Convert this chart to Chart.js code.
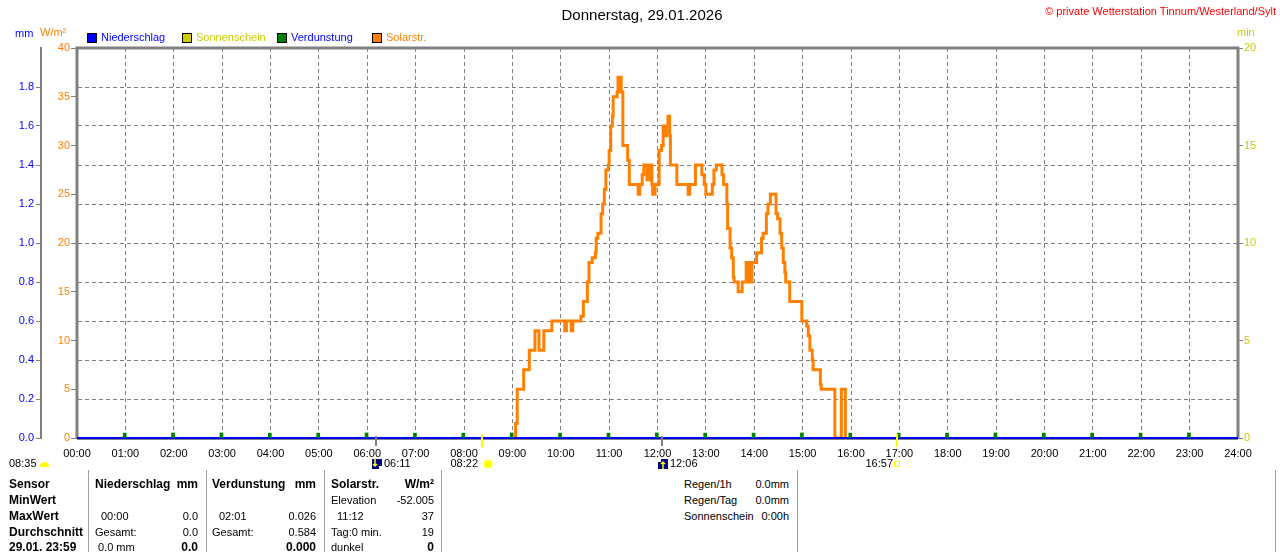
<!DOCTYPE html>
<html>
<head>
<meta charset="utf-8">
<script src="https://cdn.jsdelivr.net/npm/chart.js@4.4.1/dist/chart.umd.min.js"></script>
<style>
body { margin: 0; background: #fff; font-family: "Liberation Sans", Arial, sans-serif; font-size: 11px; color: #000; }
#wrap { position: relative; width: 1280px; height: 552px; overflow: hidden; background: #fff; }
#chart { position: absolute; left: 0; top: 0; }
.t { position: absolute; white-space: nowrap; line-height: 13px; }
.b { font-weight: bold; font-size: 12px; }
.sep { position: absolute; top: 470px; height: 82px; width: 1px; background: #a0a0a0; }
.box { position: absolute; top: 33px; width: 8px; height: 8px; border: 1px solid #000; }
</style>
</head>
<body>
<div id="wrap">
  <canvas id="chart" width="1280" height="470"></canvas>

  <div class="t" style="left:0;width:1284px;top:6px;text-align:center;font-size:15px;line-height:17px;">Donnerstag, 29.01.2026</div>
  <div class="t" style="right:4px;top:5px;color:#ff0000;">© private Wetterstation Tinnum/Westerland/Sylt</div>

  <div class="t" style="left:15px;top:27px;color:#0000ff;">mm</div>
  <div class="t" style="left:40px;top:26px;color:#ff8000;">W/m²</div>
  <div class="t" style="left:1237px;top:26px;color:#cccc00;">min</div>

  <div class="box" style="left:87px;background:#0000ff;"></div>
  <div class="t" style="left:101px;top:31px;color:#0000ff;">Niederschlag</div>
  <div class="box" style="left:182px;background:#cccc00;"></div>
  <div class="t" style="left:196px;top:31px;color:#cccc00;">Sonnenschein</div>
  <div class="box" style="left:277px;background:#008000;"></div>
  <div class="t" style="left:291px;top:31px;color:#0000ff;">Verdunstung</div>
  <div class="box" style="left:372px;background:#ff8000;"></div>
  <div class="t" style="left:386px;top:31px;color:#ff8000;">Solarstr.</div>

  <div class="t" style="left:9px;top:457px;">08:35</div>
  <div style="position:absolute;left:40px;top:462px;width:9px;height:5px;background:#ffff00;border-radius:5px 5px 0 0;"></div>

  <div class="sep" style="left:88px;"></div>
  <div class="sep" style="left:206px;"></div>
  <div class="sep" style="left:324px;"></div>
  <div class="sep" style="left:441px;"></div>
  <div class="sep" style="left:797px;"></div>
  <div class="sep" style="left:1275px;"></div>
  <div id="table"></div>
</div>

<script>
// solar radiation W/m² (value holds until the next time)
const solarTimes = [
  "09:03", "09:04", "09:06", "09:14", "09:21", "09:28", "09:33", "09:39", "09:49",
  "10:05", "10:07", "10:13", "10:15", "10:25", "10:28", "10:33", "10:35", "10:39",
  "10:43", "10:44", "10:46", "10:50", "10:52", "10:54", "10:56", "10:59",
  "11:00", "11:02", "11:04", "11:05", "11:10", "11:11", "11:13", "11:14", "11:15",
  "11:17", "11:23", "11:25", "11:36", "11:38", "11:41", "11:43", "11:47", "11:50",
  "11:53", "11:54", "11:57",
  "12:02", "12:05", "12:07", "12:09", "12:11", "12:13", "12:15", "12:16", "12:24",
  "12:38", "12:40", "12:47", "12:55", "12:58",
  "13:00", "13:08", "13:10", "13:13", "13:20", "13:22", "13:26", "13:27", "13:30",
  "13:32", "13:34", "13:35", "13:40", "13:45", "13:50", "13:52", "13:53", "13:55", "13:57",
  "14:03", "14:09", "14:11", "14:15", "14:17", "14:20", "14:27", "14:29", "14:32",
  "14:34", "14:36", "14:38", "14:39", "14:44", "14:59",
  "15:05", "15:07", "15:09", "15:12", "15:13", "15:22", "15:23", "15:40", "15:48", "15:53"
];
const solarValues = [
  0, 1.5, 5, 7, 9, 11, 9, 11, 12,
  11, 12, 11, 12, 12.5, 14, 16, 18, 18.5,
  19, 20.5, 21, 23, 24, 25.5, 27.5, 28,
  29.5, 32, 33, 35, 35.5, 37, 35.5, 37, 35.5,
  30, 28.5, 26, 25, 26, 27, 28, 26.5, 28,
  26, 25, 26,
  29.5, 30, 32, 31, 32, 33, 31, 28, 26,
  25, 26, 28, 27, 26,
  25, 26, 27.5, 28, 27, 26, 24, 21.5, 19.5,
  18.5, 16.5, 16, 15, 16, 18, 16, 18, 16, 18,
  19, 20.5, 21, 23, 24, 25, 23, 22.5, 21,
  19.5, 18, 17, 16, 14, 12,
  11.5, 10.5, 9, 8, 7, 5.5, 5, 0, 5, 0
];

// precipitation mm (hourly)
const rainTimes = ["00:00", "01:00", "02:00", "03:00", "04:00", "05:00", "06:00", "07:00", "08:00",
  "09:00", "10:00", "11:00", "12:00", "13:00", "14:00", "15:00", "16:00", "17:00", "18:00",
  "19:00", "20:00", "21:00", "22:00", "23:00", "24:00"];
const rainValues = [0, 0, 0, 0, 0, 0, 0, 0, 0, 0, 0, 0, 0, 0, 0, 0, 0, 0, 0, 0, 0, 0, 0, 0, 0];

// sunshine minutes (hourly)
const sunValues = [0, 0, 0, 0, 0, 0, 0, 0, 0, 0, 0, 0, 0, 0, 0, 0, 0, 0, 0, 0, 0, 0, 0, 0, 0];

// evaporation mm (hourly)
const evapTimes = ["01:01", "02:01", "03:01", "04:01", "05:01", "06:01", "07:01", "08:01",
  "09:01", "10:01", "11:01", "12:01", "13:01", "14:01", "15:01", "16:01", "17:01", "18:01",
  "19:01", "20:01", "21:01", "22:01", "23:01"];
const evapValues = [0.025, 0.026, 0.026, 0.025, 0.025, 0.026, 0.025, 0.025, 0.026, 0.025, 0.025,
  0.026, 0.025, 0.025, 0.026, 0.025, 0.025, 0.025, 0.026, 0.025, 0.025, 0.025, 0.026];

// moon / sun events under the time axis
const eventTimes = ["06:11", "08:22", "12:06", "16:57"];
const eventKinds = ["moonrise", "sunrise", "moonset", "sunset"];

const mmTicks = [0, 0.2, 0.4, 0.6, 0.8, 1.0, 1.2, 1.4, 1.6, 1.8, 2.0];

function toMin(t) {
  const p = t.split(":");
  return parseInt(p[0], 10) * 60 + parseInt(p[1], 10);
}

function pad(n) {
  return (n < 10 ? "0" : "") + n;
}

const GREY = "#808080";

// grey frame round the plot area, bottom edge sits just under the zero line
const framePlugin = {
  id: "frame",
  beforeDatasetsDraw(chart) {
    const a = chart.chartArea, ctx = chart.ctx;
    ctx.save();
    ctx.strokeStyle = GREY;
    ctx.lineWidth = 3;
    ctx.beginPath();
    ctx.moveTo(a.left, a.bottom + 1);
    ctx.lineTo(a.left, a.top);
    ctx.lineTo(a.right, a.top);
    ctx.lineTo(a.right, a.bottom + 1);
    ctx.stroke();
    ctx.lineWidth = 2;
    ctx.beginPath();
    ctx.moveTo(a.left, a.bottom + 1);
    ctx.lineTo(a.right, a.bottom + 1);
    ctx.stroke();
    ctx.restore();
  }
};

// sunrise/sunset and moon marks below the axis
const eventPlugin = {
  id: "events",
  afterDraw(chart) {
    const ctx = chart.ctx, xs = chart.scales.x, bottom = chart.chartArea.bottom;
    ctx.save();
    ctx.font = '11px "Liberation Sans", Arial, sans-serif';
    ctx.textBaseline = "middle";
    eventTimes.forEach(function (t, i) {
      const x = Math.round(xs.getPixelForValue(toMin(t)));
      const kind = eventKinds[i];
      const y = bottom + 26;
      if (kind === "sunrise" || kind === "sunset") {
        ctx.fillStyle = "#ffff00";
        ctx.fillRect(x - 1, bottom - 4, 2, 13);
        ctx.fillStyle = "#000";
        ctx.textAlign = "right";
        ctx.fillText(t, x - 4, y);
        if (kind === "sunrise") {
          ctx.strokeStyle = "#ffff99";
          ctx.lineWidth = 1;
          for (let k = 0; k < 8; k++) {
            const ang = k * Math.PI / 4;
            ctx.beginPath();
            ctx.moveTo(x + 6 + Math.cos(ang) * 4, y + Math.sin(ang) * 4);
            ctx.lineTo(x + 6 + Math.cos(ang) * 7, y + Math.sin(ang) * 7);
            ctx.stroke();
          }
          ctx.fillStyle = "#ffff00";
          ctx.beginPath();
          ctx.arc(x + 6, y, 4, 0, Math.PI * 2);
          ctx.fill();
        } else {
          ctx.strokeStyle = "#ffff00";
          ctx.lineWidth = 1;
          ctx.strokeRect(x - 2.5, y - 2.5, 5, 5);
        }
      } else {
        ctx.fillStyle = GREY;
        ctx.fillRect(x - 1, bottom - 2, 2, 10);
        ctx.fillStyle = "#000080";
        ctx.fillRect(x - 4, y - 5, 10, 10);
        ctx.strokeStyle = "#ffff00";
        ctx.lineWidth = 1.5;
        ctx.beginPath();
        if (kind === "moonrise") {
          ctx.moveTo(x - 1, y - 5); ctx.lineTo(x - 1, y + 2);
          ctx.moveTo(x - 3, y); ctx.lineTo(x - 1, y + 2); ctx.lineTo(x + 1, y);
        } else {
          ctx.moveTo(x + 1, y + 5); ctx.lineTo(x + 1, y - 2);
          ctx.moveTo(x - 1, y); ctx.lineTo(x + 1, y - 2); ctx.lineTo(x + 3, y);
          ctx.fillStyle = "#ffffff";
          ctx.fillRect(x - 4, y - 5, 3, 3);
        }
        ctx.stroke();
        if (kind === "moonrise") {
          ctx.fillStyle = "#ffffff";
          ctx.fillRect(x + 3, y + 2, 3, 3);
        }
        ctx.fillStyle = "#000";
        ctx.textAlign = "left";
        ctx.fillText(t, x + 8, y);
      }
    });
    ctx.restore();
  }
};

Chart.defaults.font.family = '"Liberation Sans", Arial, sans-serif';
Chart.defaults.font.size = 11;
Chart.defaults.color = "#000";

const ctx = document.getElementById("chart").getContext("2d");
const chart = new Chart(ctx, {
  type: "line",
  data: {
    datasets: [
      {
        label: "Verdunstung",
        type: "bar",
        data: evapTimes.map((t, i) => ({ x: toMin(t), y: evapValues[i] })),
        backgroundColor: "#008000",
        barThickness: 3,
        yAxisID: "yMm",
        order: 0
      },
      {
        label: "Niederschlag",
        data: rainTimes.map((t, i) => ({ x: toMin(t), y: rainValues[i] })),
        borderColor: "#0000ff",
        borderWidth: 2,
        pointRadius: 0,
        stepped: true,
        clip: false,
        yAxisID: "yMm",
        order: 1
      },
      {
        label: "Solarstr.",
        data: solarTimes.map((t, i) => ({ x: toMin(t), y: solarValues[i] })),
        borderColor: "#ff8000",
        borderWidth: 3,
        pointRadius: 0,
        stepped: true,
        yAxisID: "ySolar",
        order: 2
      },
      {
        label: "Sonnenschein",
        type: "bar",
        data: rainTimes.map((t, i) => ({ x: toMin(t), y: sunValues[i] })),
        backgroundColor: "#cccc00",
        barThickness: 3,
        yAxisID: "yMin",
        order: 3
      }
    ]
  },
  options: {
    responsive: false,
    animation: false,
    events: [],
    layout: { padding: { top: 48, left: 0, right: 0, bottom: 0 } },
    plugins: {
      legend: { display: false },
      tooltip: { enabled: false },
      title: { display: false }
    },
    scales: {
      x: {
        type: "linear",
        min: 0,
        max: 1440,
        offset: false,
        afterFit: function (s) { s.height = 32; },
        afterBuildTicks: function (s) {
          s.ticks = rainTimes.map(t => ({ value: toMin(t) }));
        },
        ticks: {
          autoSkip: false,
          maxRotation: 0,
          padding: 9,
          color: "#000",
          callback: function (v) { return pad(Math.round(v / 60)) + ":00"; }
        },
        grid: {
          offset: false,
          color: GREY,
          lineWidth: 1,
          drawTicks: false
        },
        border: { display: false, dash: [4, 3] }
      },
      yMm: {
        position: "left",
        weight: 1,
        min: 0,
        max: 2,
        afterFit: function (s) { s.width = 41; },
        afterBuildTicks: function (s) {
          s.ticks = mmTicks.map(v => ({ value: v }));
        },
        ticks: {
          color: "#0000ff",
          padding: 2,
          callback: function (v) { return v >= 2 ? "" : v.toFixed(1); }
        },
        grid: {
          offset: false,
          color: GREY,
          lineWidth: 1,
          tickLength: 5,
          tickColor: function (c) { return c.tick && c.tick.value >= 2 ? "rgba(0,0,0,0)" : GREY; },
          tickBorderDash: []
        },
        border: { display: true, color: GREY, width: 2, dash: [4, 3] }
      },
      ySolar: {
        position: "left",
        weight: 0,
        min: 0,
        max: 40,
        afterFit: function (s) { s.width = 36; },
        ticks: { stepSize: 5, color: "#ff8000", padding: 1 },
        grid: { drawOnChartArea: false, tickLength: 6, tickColor: GREY, color: GREY },
        border: { display: false }
      },
      yMin: {
        position: "right",
        min: 0,
        max: 20,
        afterFit: function (s) { s.width = 42; },
        ticks: { stepSize: 5, color: "#cccc00", padding: 1 },
        grid: { drawOnChartArea: false, tickLength: 5, tickColor: GREY, color: GREY },
        border: { display: false }
      }
    }
  },
  plugins: [framePlugin, eventPlugin]
});

// data table below the chart
const rowY = [478, 494, 510, 526, 541];
function put(text, x, row, opts) {
  const d = document.createElement("div");
  d.className = "t" + (opts && opts.bold ? " b" : "");
  d.textContent = text;
  d.style.top = rowY[row] + "px";
  if (opts && opts.right) {
    d.style.right = (1280 - x) + "px";
  } else {
    d.style.left = x + "px";
  }
  document.getElementById("table").appendChild(d);
}

put("Sensor", 9, 0, { bold: true });
put("MinWert", 9, 1, { bold: true });
put("MaxWert", 9, 2, { bold: true });
put("Durchschnitt", 9, 3, { bold: true });
put("29.01. 23:59", 9, 4, { bold: true });

put("Niederschlag", 95, 0, { bold: true });
put("mm", 198, 0, { bold: true, right: true });
put("00:00", 101, 2);
put("0.0", 198, 2, { right: true });
put("Gesamt:", 95, 3);
put("0.0", 198, 3, { right: true });
put("0.0 mm", 98, 4);
put("0.0", 198, 4, { bold: true, right: true });

put("Verdunstung", 212, 0, { bold: true });
put("mm", 316, 0, { bold: true, right: true });
put("02:01", 219, 2);
put("0.026", 316, 2, { right: true });
put("Gesamt:", 212, 3);
put("0.584", 316, 3, { right: true });
put("0.000", 316, 4, { bold: true, right: true });

put("Solarstr.", 331, 0, { bold: true });
put("W/m²", 434, 0, { bold: true, right: true });
put("Elevation", 331, 1);
put("-52.005", 434, 1, { right: true });
put("11:12", 337, 2);
put("37", 434, 2, { right: true });
put("Tag:0 min.", 331, 3);
put("19", 434, 3, { right: true });
put("dunkel", 331, 4);
put("0", 434, 4, { bold: true, right: true });

put("Regen/1h", 684, 0);
put("0.0mm", 789, 0, { right: true });
put("Regen/Tag", 684, 1);
put("0.0mm", 789, 1, { right: true });
put("Sonnenschein", 684, 2);
put("0:00h", 789, 2, { right: true });
</script>
</body>
</html>
